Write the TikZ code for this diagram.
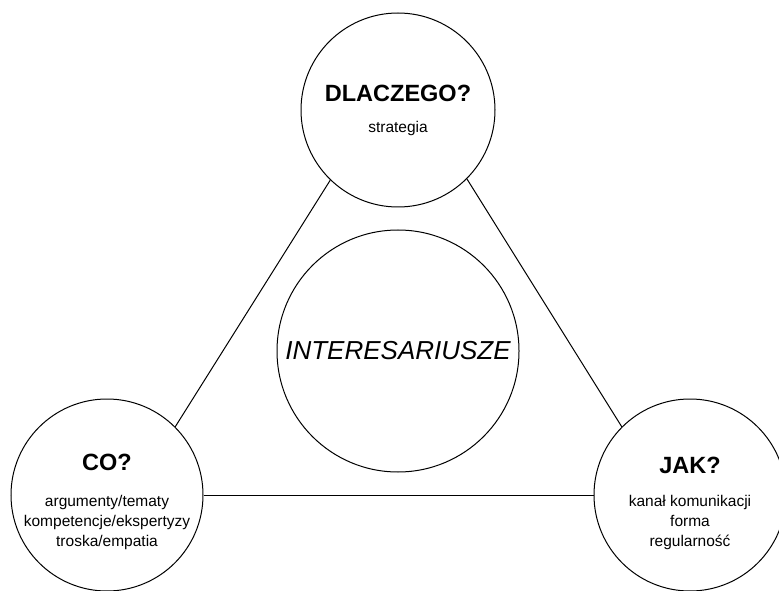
\documentclass[tikz,border=0pt]{standalone}
\usepackage{fontspec}
\setmainfont{Liberation Sans}
\begin{document}
\begin{tikzpicture}[x=1pt,y=1pt,
	every node/.style={align=center},
	krag/.style={circle,draw,line width=1pt,inner sep=0pt},
	tytul/.style={font=\fontsize{23.5}{27}\selectfont\bfseries},
	opis/.style={font=\fontsize{15.5}{20}\selectfont},
	polaczenie/.style={line width=1pt}]
	\useasboundingbox (0,0) rectangle (779,590);
	% kola
	\node[krag,minimum size=194pt] (dlaczego) at (398,480) {};
	\node[krag,minimum size=192pt] (co) at (107,95) {};
	\node[krag,minimum size=192pt] (jak) at (690,95) {};
	\node[krag,minimum size=242pt] (interesariusze) at (398,239) {};
	% teksty
	\node[tytul] (dlaczego tytul) at (398,497) {DLACZEGO?};
	\node[opis] (dlaczego opis) at (398,462) {strategia};
	\node[tytul] (co tytul) at (107,128) {CO?};
	\node[opis] (co opis) at (107,68) {argumenty/tematy\\kompetencje/ekspertyzy\\troska/empatia};
	\node[tytul] (jak tytul) at (690,125) {JAK?};
	\node[opis] (jak opis) at (690,68) {kanał komunikacji\\forma\\regularność};
	\node[font=\fontsize{26}{30}\selectfont\itshape] (interesariusze tekst) at (398,239) {INTERESARIUSZE};
	% trojkat
	\draw[polaczenie] (dlaczego.226) -- (co.45);
	\draw[polaczenie] (dlaczego.-45) -- (jak.135);
	\draw[polaczenie] (co.0) -- (jak.180);
\end{tikzpicture}
\end{document}
